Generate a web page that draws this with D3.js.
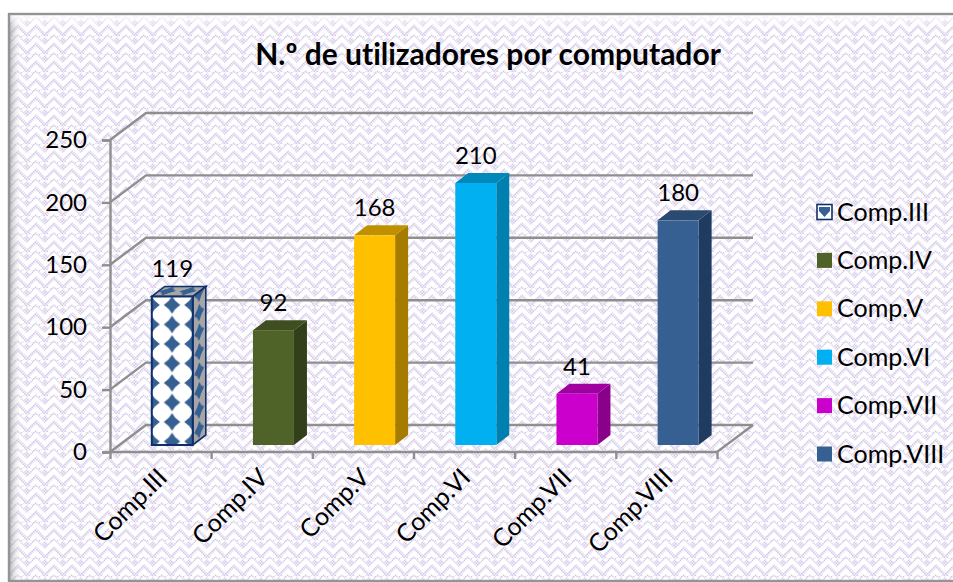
<!DOCTYPE html>
<html><head><meta charset="utf-8">
<style>html,body{margin:0;padding:0;background:#fff}svg{display:block}text{font-family:Lato,"Open Sans",sans-serif;fill:#000;font-variant-ligatures:none}</style>
<script src="https://cdnjs.cloudflare.com/ajax/libs/d3/7.8.5/d3.min.js"></script>
</head><body><svg id="c" width="953" height="582"></svg>
<script>
const categories = ["Comp.III","Comp.IV","Comp.V","Comp.VI","Comp.VII","Comp.VIII"];
const values = [119,92,168,210,41,180];
const yTicks = [0,50,100,150,200,250];
const titleText = "N.º de utilizadores por computador";
const frontColors = ["url(#dFront)","#4f6228","#ffc000","#00b0f0","#cc00cc","#376092"];
const sideColors  = ["url(#dSide)","#333f1a","#a67c00","#0080ae","#8a008a","#1f3b5f"];
const topColors   = ["url(#dTop)","#3f4e20","#bf9000","#0088bb","#a000a0","#2a4a72"];

const svg = d3.select("#c"), defs = svg.append("defs");
const W=953,H=582;
const x = d3.scaleBand().domain(categories).range([110,717]);
const y = d3.scaleLinear().domain([0,250]).range([452,140]);
const dx=36, dy=-27, barW=41, bdx=13, bdy=-10, bx=11.7-barW/2, by=-7;

// background weave: dotted lavender ground with white bars on top
const dots = defs.append("pattern").attr("id","dots").attr("patternUnits","userSpaceOnUse").attr("width",3).attr("height",3);
dots.append("rect").attr("width",3).attr("height",3).attr("fill","#f7f4fb");
dots.append("rect").attr("width",1.5).attr("height",1.5).attr("fill","#d3c7e8");
dots.append("rect").attr("x",1.5).attr("y",1.5).attr("width",1.5).attr("height",1.5).attr("fill","#d3c7e8");
const bg = defs.append("pattern").attr("id","weave").attr("patternUnits","userSpaceOnUse").attr("width",18).attr("height",18);
bg.append("rect").attr("width",18).attr("height",18).attr("fill","url(#dots)");
bg.append("path").attr("d","M-1 2L9 12L19 2M-2 11L5 18M20 11L13 18M5 0L7.5 2.5M13 0L10.5 2.5")
  .attr("fill","none").attr("stroke","#fff").attr("stroke-width",4.2);
const g1 = defs.append("linearGradient").attr("id","fadeL");
g1.append("stop").attr("offset",0).attr("stop-color","#888").attr("stop-opacity",.55);
g1.append("stop").attr("offset",1).attr("stop-color","#fff").attr("stop-opacity",0);
const g2 = defs.append("linearGradient").attr("id","fadeT").attr("x1",0).attr("x2",0).attr("y1",0).attr("y2",1);
g2.append("stop").attr("offset",0).attr("stop-color","#fff").attr("stop-opacity",.85);
g2.append("stop").attr("offset",1).attr("stop-color","#fff").attr("stop-opacity",0);

// diamond fills
function diamondPattern(id,bgc,transform){
  const p = defs.append("pattern").attr("id",id).attr("patternUnits","userSpaceOnUse").attr("width",20.5).attr("height",19.5);
  p.attr("patternTransform",transform);
  p.append("rect").attr("width",20.5).attr("height",19.5).attr("fill",bgc);
  p.append("path").attr("fill","#376092").attr("d","M10.25 1L13.5 5.5L18.5 9.75L13.5 14L10.25 18.5L7 14L2 9.75L7 5.5Z");
}
diamondPattern("dFront","#fff","translate(161.8,295.2)");
diamondPattern("dSide","#a6a6a6","translate(193,288) skewY(-37) scale(.6,1)");
diamondPattern("dTop","#a6a6a6","translate(151,296) skewX(-52) scale(1,.5)");

svg.append("rect").attr("x",9).attr("y",14).attr("width",W).attr("height",H-15).attr("fill","url(#weave)");
svg.append("rect").attr("x",10).attr("y",15).attr("width",12).attr("height",H-16).attr("fill","url(#fadeL)");
svg.append("rect").attr("x",10).attr("y",15).attr("width",W).attr("height",12).attr("fill","url(#fadeT)");
svg.append("rect").attr("x",9).attr("y",14).attr("width",W).attr("height",H-15).attr("fill","none").attr("stroke","#949494").attr("stroke-width",2.4);

const gridC="#8f8f8f";
const grid = svg.append("g").attr("fill","none").attr("stroke",gridC).attr("stroke-width",2.4);
grid.selectAll("path").data(yTicks).join("path")
  .attr("d",d=>`M${x.range()[0]} ${y(d)}L${x.range()[0]+dx} ${y(d)+dy}L${x.range()[1]+dx} ${y(d)+dy}`);
grid.append("path").attr("d",`M${x.range()[1]} ${y(0)}L${x.range()[1]+dx} ${y(0)+dy}`);

const yAxis = svg.append("g").attr("transform",`translate(${x.range()[0]},0)`)
  .call(d3.axisLeft(y).tickValues(yTicks).tickSize(8).tickPadding(15));
const xTickScale = d3.scaleLinear().domain([0,categories.length]).range(x.range());
const xAxis = svg.append("g").attr("transform",`translate(0,${y(0)})`)
  .call(d3.axisBottom(xTickScale).tickValues(d3.range(categories.length+1)).tickSize(7).tickFormat(""));
[yAxis,xAxis].forEach(a=>{a.selectAll("path,line").attr("stroke",gridC).attr("stroke-width",2.4);});
xAxis.select(".domain").attr("d",`M${x.range()[0]} 0H${x.range()[1]}`);
yAxis.selectAll("text").attr("font-size",24).attr("font-family","Lato").attr("fill","#000");

svg.append("g").selectAll("text").data(categories).join("text")
  .attr("text-anchor","end").attr("font-size",25)
  .attr("transform",d=>`translate(${x(d)+x.bandwidth()/2+8},${y(0)+27}) rotate(-45)`)
  .text(d=>d);

const bars = svg.append("g").selectAll("g").data(categories).join("g");
const fx = d=>x(d)+x.bandwidth()/2+bx;
const by0 = y(0)+by;
const ty = (d,i)=>by0-(y(0)-y(values[i]));
const stroke = i=>i===0?"#0f2f6b":"none";
bars.append("path").attr("fill",(d,i)=>sideColors[i]).attr("stroke",(d,i)=>stroke(i)).attr("stroke-width",1.6)
  .attr("d",(d,i)=>`M${fx(d)+barW} ${ty(d,i)}l${bdx} ${bdy}V${by0+bdy}l${-bdx} ${-bdy}Z`);
bars.append("path").attr("fill",(d,i)=>topColors[i]).attr("stroke",(d,i)=>stroke(i)).attr("stroke-width",1.6)
  .attr("d",(d,i)=>`M${fx(d)} ${ty(d,i)}l${bdx} ${bdy}h${barW}l${-bdx} ${-bdy}Z`);
bars.append("rect").attr("fill",(d,i)=>frontColors[i]).attr("stroke",(d,i)=>stroke(i)).attr("stroke-width",(d,i)=>i===0?2:0)
  .attr("x",fx).attr("y",ty).attr("width",barW).attr("height",(d,i)=>by0-ty(d,i));
bars.append("text").attr("text-anchor","middle").attr("font-size",24)
  .attr("x",d=>fx(d)+barW/2).attr("y",(d,i)=>ty(d,i)+bdy-9).text((d,i)=>values[i]);

svg.append("text").attr("x",488).attr("y",65).attr("text-anchor","middle").attr("font-size",30).attr("font-weight",700).text(titleText);

const ly = d3.scalePoint().domain(categories).range([212,454]);
const leg = svg.append("g").selectAll("g").data(categories).join("g").attr("transform",d=>`translate(817,${ly(d)})`);
leg.append("rect").attr("x",0).attr("y",-7.5).attr("width",15).attr("height",15)
  .attr("fill",(d,i)=>i===0?"#fff":frontColors[i]).attr("stroke",(d,i)=>stroke(i)).attr("stroke-width",(d,i)=>i===0?1.6:0);
leg.filter((d,i)=>i===0).append("path").attr("fill","#376092").attr("d","M2 -5H13V-1L7.5 5L2 -1Z");
leg.append("text").attr("x",20).attr("y",8.5).attr("font-size",25).text(d=>d);
</script></body></html>
